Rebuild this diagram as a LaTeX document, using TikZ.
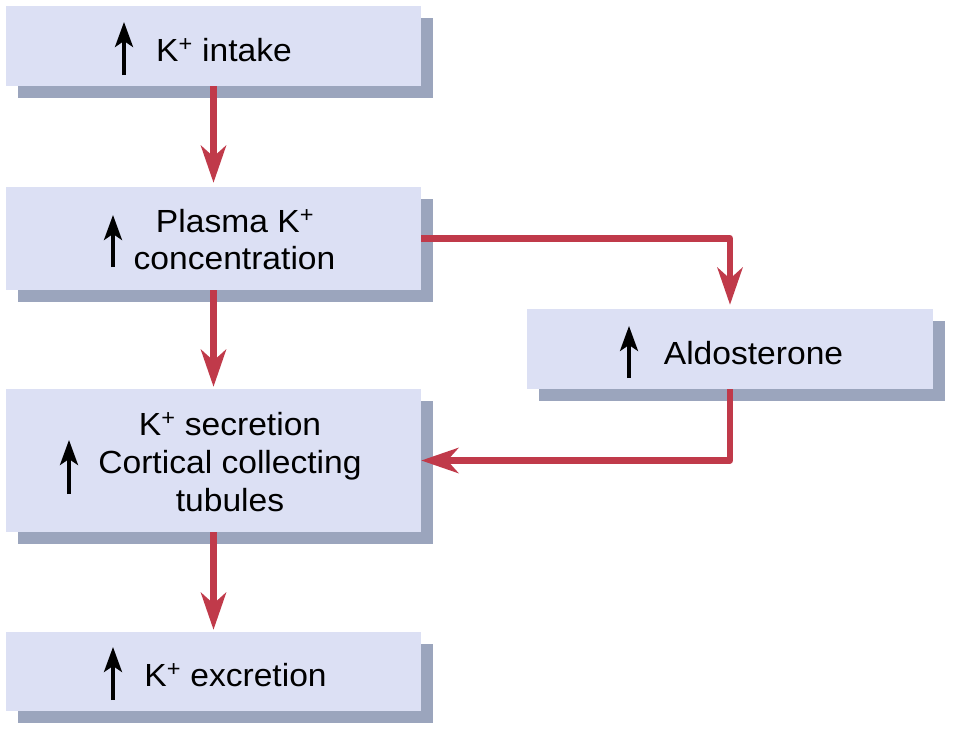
\documentclass[tikz,border=0pt]{standalone}
\usepackage{fontspec}
\setmainfont[FakeStretch=1.05]{Liberation Sans}
\usetikzlibrary{arrows.meta,shadows}
\definecolor{boxfill}{HTML}{DCE0F4}
\definecolor{shadowc}{HTML}{9BA5BD}
\definecolor{redc}{HTML}{C03A4A}
\begin{document}
\begin{tikzpicture}[x=1pt,y=-1pt,
  box/.style={rectangle, fill=boxfill, inner sep=0pt, minimum width=415pt,
    drop shadow={shadow xshift=12pt, shadow yshift=-12pt, fill=shadowc, opacity=1}},
  lbl/.style={anchor=base, inner sep=0pt, font=\fontsize{32}{38}\selectfont},
  uparr/.style={line width=3.5pt, -{Stealth[length=25pt,width=18pt,inset=6pt]}},
  redarr/.style={draw=redc, line width=6.5pt, line join=round,
    -{Stealth[length=37pt,width=25pt,inset=11pt]}}
]
\fill[white] (0,0) rectangle (953,731);
\useasboundingbox (0,0) rectangle (953,731);

\node[box, minimum height=80pt] (b1) at (213.5,46) {};
\node[box, minimum height=103pt] (b2) at (213.5,238.5) {};
\node[box, minimum height=143pt] (b3) at (213.5,460.5) {};
\node[box, minimum height=79pt] (b4) at (213.5,671.5) {};
\node[box, minimum width=406pt, minimum height=80pt] (b5) at (730,349) {};

\node[lbl] (t1) at (224,61) {K\textsuperscript{+} intake};
\node[lbl] (t2a) at (235,232) {Plasma K\textsuperscript{+}};
\node[lbl] (t2b) at (234.5,269) {concentration};
\node[lbl] (t3a) at (230,435) {K\textsuperscript{+} secretion};
\node[lbl] (t3b) at (230,473) {Cortical collecting};
\node[lbl] (t3c) at (230,511) {tubules};
\node[lbl] (t4) at (235.5,686) {K\textsuperscript{+} excretion};
\node[lbl] (t5) at (753.5,364) {Aldosterone};

\coordinate (u1s) at (124,75);  \coordinate (u1e) at (124,22);
\coordinate (u2s) at (113,267); \coordinate (u2e) at (113,215);
\coordinate (u3s) at (69,494);  \coordinate (u3e) at (69,440);
\coordinate (u4s) at (113,700); \coordinate (u4e) at (113,647);
\coordinate (u5s) at (629,378); \coordinate (u5e) at (629,326);
\foreach \i in {1,...,5} {\draw[uparr] (u\i s) -- (u\i e);}

\draw[redarr, shorten >=4pt] (b1.south) -- (b2.north);
\draw[redarr, shorten >=2pt] (b2.south) -- (b3.north);
\draw[redarr, shorten >=2pt] (b3.south) -- (b4.north);
\draw[redarr, shorten >=4pt] (b2.east) -| (b5.north);
\draw[redarr] (b5.south) |- (b3.east);
\end{tikzpicture}
\end{document}
